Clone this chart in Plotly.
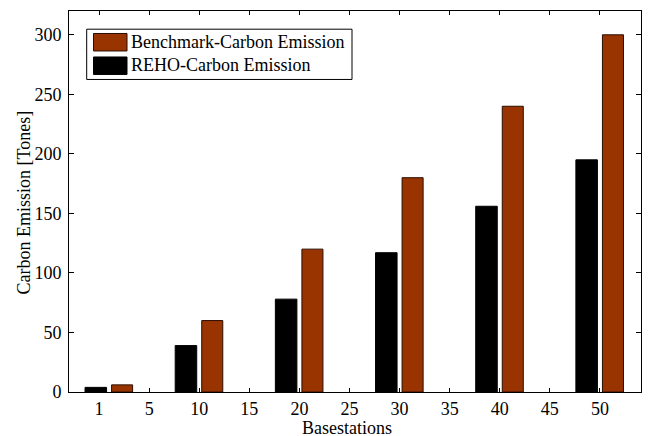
import plotly.graph_objects as go

basestations = [1, 10, 20, 30, 40, 50]
reho_emission = [3.9, 39, 78, 117, 156, 195]
benchmark_emission = [6, 60, 120, 180, 240, 300]

tick_vals = [0, 5, 10, 15, 20, 25, 30, 35, 40, 45, 50]
tick_text = ['1', '5', '10', '15', '20', '25', '30', '35', '40', '45', '50']

W, H = 650, 436
OFF = 8  # page body margin in the browser
# plot box on screen: x 69..641, y 10.5..391.7
L, R = 69 - OFF, 9 + OFF
T, B = 10.5 - OFF, 44.3 + OFF
FONT = 'Liberation Serif, Times New Roman, serif'
BROWN = '#993300'


def px(x):
    return (x - OFF - L) / (W - L - R)


def py(y):
    return (H - B - (y - OFF)) / (H - T - B)


fig = go.Figure()
fig.add_trace(go.Bar(
    x=basestations, y=reho_emission, name='REHO-Carbon Emission',
    width=2.15, offset=-2.4,
    marker=dict(color='black', line=dict(color='black', width=1)),
))
fig.add_trace(go.Bar(
    x=basestations, y=benchmark_emission, name='Benchmark-Carbon Emission',
    width=2.1, offset=0.25,
    marker=dict(color=BROWN, line=dict(color='#2a0e00', width=1)),
))

# legend drawn by hand so the patches match the big MATLAB ones
shapes = [
    dict(type='rect', xref='paper', yref='paper',
         x0=px(86.7), x1=px(352), y0=py(79), y1=py(28.7),
         line=dict(color='black', width=1), fillcolor='white'),
    dict(type='rect', xref='paper', yref='paper',
         x0=px(93.5), x1=px(127), y0=py(50.5), y1=py(33),
         line=dict(color='#2a0e00', width=1), fillcolor=BROWN),
    dict(type='rect', xref='paper', yref='paper',
         x0=px(93.5), x1=px(127), y0=py(74), y1=py(56.5),
         line=dict(color='black', width=1), fillcolor='black'),
]
annotations = [
    dict(text='Benchmark-Carbon Emission', xref='paper', yref='paper',
         x=px(129), y=py(42), xanchor='left', yanchor='middle',
         showarrow=False, font=dict(family=FONT, size=18, color='black')),
    dict(text='REHO-Carbon Emission', xref='paper', yref='paper',
         x=px(129), y=py(65), xanchor='left', yanchor='middle',
         showarrow=False, font=dict(family=FONT, size=18, color='black')),
    # axis titles
    dict(text='Basestations', xref='paper', yref='paper',
         x=px(347), y=py(428), xanchor='center', yanchor='middle',
         showarrow=False, font=dict(family=FONT, size=18, color='black')),
    dict(text='Carbon Emission [Tones]', xref='paper', yref='paper',
         x=px(24), y=py(202), xanchor='center', yanchor='middle',
         textangle=-90,
         showarrow=False, font=dict(family=FONT, size=18, color='black')),
]

fig.update_layout(
    width=W, height=H,
    margin=dict(l=L, r=R, t=T, b=B),
    paper_bgcolor='white', plot_bgcolor='white',
    barmode='overlay',
    showlegend=False,
    font=dict(family=FONT, size=18, color='black'),
    shapes=shapes,
    annotations=annotations,
)
fig.update_xaxes(
    range=[-3.0, 54.1],
    tickvals=tick_vals, ticktext=tick_text,
    ticks='inside', ticklen=4, tickcolor='black',
    showline=True, linecolor='black', linewidth=1, mirror='ticks',
    showgrid=False, zeroline=False, automargin=False,
)
fig.update_yaxes(
    range=[0, 320],
    tickvals=[0, 50, 100, 150, 200, 250, 300],
    ticks='inside', ticklen=5, tickcolor='black',
    showline=True, linecolor='black', linewidth=1, mirror='ticks',
    showgrid=False, zeroline=False, automargin=False,
    ticklabelstandoff=3,
)

fig.write_html('out.html')
